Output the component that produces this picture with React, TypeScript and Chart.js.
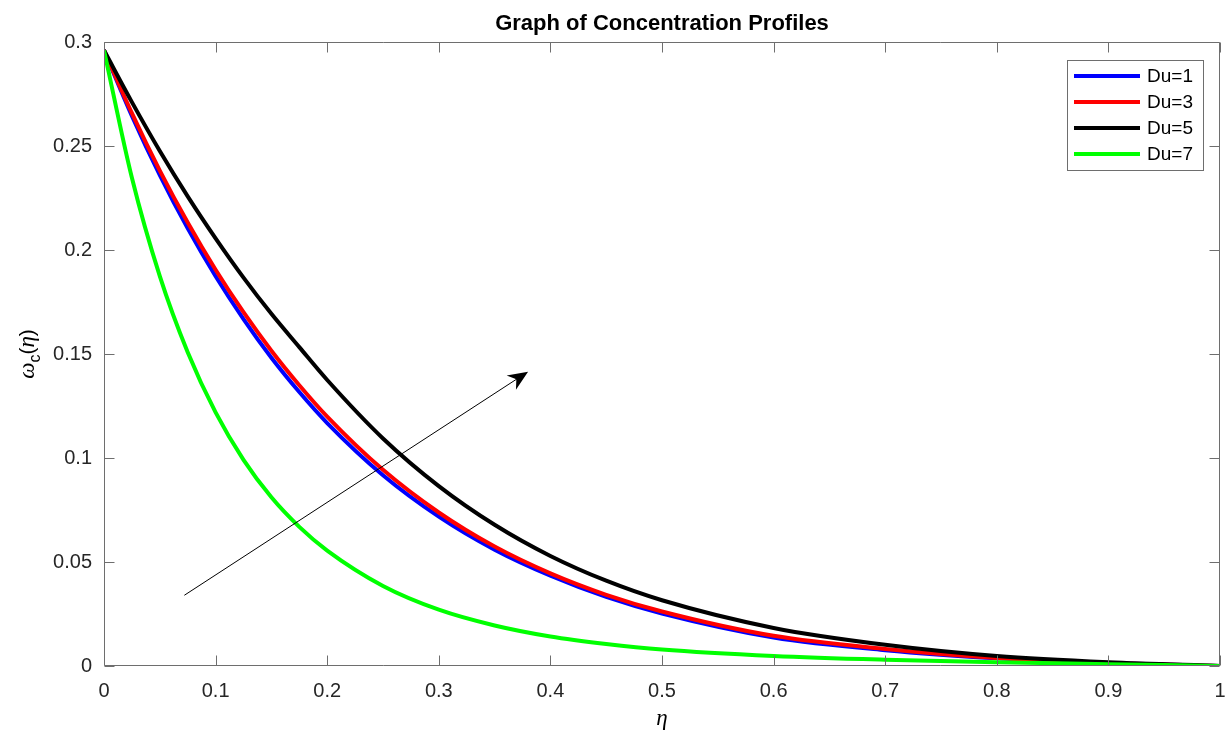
import React, { useEffect, useRef } from 'react';
import { Chart, registerables } from 'chart.js';

Chart.register(...registerables);

// ---- data ----
const eta = [0, 0.025, 0.05, 0.075, 0.1, 0.125, 0.15, 0.175, 0.2, 0.25, 0.3, 0.35, 0.4, 0.45, 0.5, 0.6, 0.7, 0.8, 0.9, 1.0];
const du1 = [0.296, 0.2645, 0.236, 0.2104, 0.1874, 0.1668, 0.1482, 0.1317, 0.1168, 0.0917, 0.0718, 0.0559, 0.0434, 0.0332, 0.0252, 0.0137, 0.0076, 0.0037, 0.0014, 0];
const du3 = [0.296, 0.2658, 0.2382, 0.2132, 0.1905, 0.1701, 0.1516, 0.135, 0.1199, 0.0943, 0.0738, 0.0574, 0.0445, 0.0342, 0.0262, 0.0145, 0.0082, 0.0039, 0.0015, 0];
const du5 = [0.296, 0.2711, 0.2476, 0.2258, 0.2056, 0.1867, 0.1693, 0.1533, 0.1375, 0.1094, 0.0865, 0.0679, 0.0529, 0.041, 0.0316, 0.0183, 0.0102, 0.0048, 0.0018, 0];
const du7 = [0.296, 0.2347, 0.1874, 0.1508, 0.1219, 0.0991, 0.0811, 0.0669, 0.0555, 0.0385, 0.0271, 0.0195, 0.0142, 0.0106, 0.0079, 0.0048, 0.003, 0.0018, 0.0009, 0];

const seriesLabels = ['Du=1', 'Du=3', 'Du=5', 'Du=7'];
const seriesColors = ['#0000ff', '#ff0000', '#000000', '#00ff00'];

const xTickValues = [0, 0.1, 0.2, 0.3, 0.4, 0.5, 0.6, 0.7, 0.8, 0.9, 1];
const xTickLabels = ['0', '0.1', '0.2', '0.3', '0.4', '0.5', '0.6', '0.7', '0.8', '0.9', '1'];
const yTickValues = [0, 0.05, 0.1, 0.15, 0.2, 0.25, 0.3];
const yTickLabels = ['0', '0.05', '0.1', '0.15', '0.2', '0.25', '0.3'];

const arrowFrom = [0.072, 0.034];
const arrowTo = [0.38, 0.1415];

const titleText = 'Graph of Concentration Profiles';

const SANS = '"Liberation Sans", Arial, Helvetica, sans-serif';
const SERIF = '"Liberation Serif", "DejaVu Serif", serif';
const AXIS_GRAY = '#6e6e6e';

const decorPlugin = {
  id: 'decor',
  afterDatasetsDraw(chart: any) {
    const ctx: CanvasRenderingContext2D = chart.ctx;
    const { left, right, top, bottom } = chart.chartArea;
    const xs = chart.scales.x;
    const ys = chart.scales.y;

    // arrow annotation
    ctx.save();
    const x0 = xs.getPixelForValue(arrowFrom[0]);
    const y0 = ys.getPixelForValue(arrowFrom[1]);
    const x1 = xs.getPixelForValue(arrowTo[0]);
    const y1 = ys.getPixelForValue(arrowTo[1]);
    const len = Math.hypot(x1 - x0, y1 - y0);
    const dx = (x1 - x0) / len;
    const dy = (y1 - y0) / len;
    const nx = -dy;
    const ny = dx;
    const hl = 20;
    const hw = 8.5;
    ctx.strokeStyle = '#000';
    ctx.lineWidth = 1;
    ctx.beginPath();
    ctx.moveTo(x0, y0);
    ctx.lineTo(x1 - dx * 12, y1 - dy * 12);
    ctx.stroke();
    ctx.fillStyle = '#000';
    ctx.beginPath();
    ctx.moveTo(x1, y1);
    ctx.lineTo(x1 - dx * hl + nx * hw, y1 - dy * hl + ny * hw);
    ctx.lineTo(x1 - dx * 14, y1 - dy * 14);
    ctx.lineTo(x1 - dx * hl - nx * hw, y1 - dy * hl - ny * hw);
    ctx.closePath();
    ctx.fill();
    ctx.restore();

    // frame and inward ticks
    ctx.save();
    ctx.strokeStyle = AXIS_GRAY;
    ctx.lineWidth = 1;
    const L = Math.round(left) + 0.5;
    const R = Math.round(right) - 0.5;
    const T = Math.round(top) + 0.5;
    const B = Math.round(bottom) - 0.5;
    ctx.beginPath();
    ctx.rect(L, T, R - L, B - T);
    const tk = 10;
    xTickValues.forEach((v) => {
      const px = Math.round(xs.getPixelForValue(v)) + 0.5;
      ctx.moveTo(px, B);
      ctx.lineTo(px, B - tk);
      ctx.moveTo(px, T);
      ctx.lineTo(px, T + tk);
    });
    yTickValues.forEach((v) => {
      const py = Math.round(ys.getPixelForValue(v)) + 0.5;
      ctx.moveTo(L, py);
      ctx.lineTo(L + tk, py);
      ctx.moveTo(R, py);
      ctx.lineTo(R - tk, py);
    });
    ctx.stroke();
    ctx.restore();

    // legend
    ctx.save();
    const bw = 136;
    const bh = 110;
    const bx = Math.round(right) - 17 - bw;
    const by = Math.round(top) + 18;
    ctx.fillStyle = '#fff';
    ctx.fillRect(bx, by, bw, bh);
    ctx.strokeStyle = AXIS_GRAY;
    ctx.lineWidth = 1;
    ctx.strokeRect(bx + 0.5, by + 0.5, bw, bh);
    ctx.font = `19px ${SANS}`;
    ctx.textBaseline = 'middle';
    ctx.textAlign = 'left';
    chart.data.datasets.forEach((ds: any, i: number) => {
      const yy = by + 16 + 26 * i;
      ctx.strokeStyle = ds.borderColor;
      ctx.lineWidth = 4;
      ctx.beginPath();
      ctx.moveTo(bx + 7, yy);
      ctx.lineTo(bx + 73, yy);
      ctx.stroke();
      ctx.fillStyle = '#000';
      ctx.fillText(ds.label, bx + 80, yy + 1);
    });
    ctx.restore();

    // title
    ctx.save();
    ctx.fillStyle = '#000';
    ctx.font = `bold 22px ${SANS}`;
    ctx.textAlign = 'center';
    ctx.textBaseline = 'alphabetic';
    ctx.fillText(titleText, (left + right) / 2, 30);

    // x label
    ctx.font = `italic 23px ${SERIF}`;
    ctx.fillText('\u03b7', (left + right) / 2, 725);

    // y label  ω_c(η)
    ctx.translate(34, (top + bottom) / 2);
    ctx.rotate(-Math.PI / 2);
    ctx.textAlign = 'left';
    const parts = [
      { t: '\u03c9', f: `italic 23px ${SERIF}`, dy: 0 },
      { t: 'c', f: `16px ${SANS}`, dy: 6 },
      { t: '(', f: `21px ${SANS}`, dy: 0 },
      { t: '\u03b7', f: `italic 23px ${SERIF}`, dy: 0 },
      { t: ')', f: `21px ${SANS}`, dy: 0 },
    ];
    let total = 0;
    parts.forEach((p) => {
      ctx.font = p.f;
      total += ctx.measureText(p.t).width;
    });
    let cx = -total / 2;
    parts.forEach((p) => {
      ctx.font = p.f;
      ctx.fillText(p.t, cx, p.dy);
      cx += ctx.measureText(p.t).width;
    });
    ctx.restore();
  },
};

export default function App() {
  const ref = useRef<HTMLCanvasElement>(null);

  useEffect(() => {
    if (!ref.current) return;
    const series = [du1, du3, du5, du7];
    const chart = new Chart(ref.current, {
      type: 'line',
      data: {
        datasets: series.map((s, i) => ({
          label: seriesLabels[i],
          data: eta.map((x, j) => ({ x, y: s[j] })),
          borderColor: seriesColors[i],
          backgroundColor: seriesColors[i],
          borderWidth: 4,
          pointRadius: 0,
          fill: false,
          cubicInterpolationMode: 'monotone',
          order: series.length - i,
        })),
      },
      options: {
        responsive: false,
        animation: false,
        events: [],
        layout: { padding: { top: 42, right: 11, left: 0, bottom: 0 } },
        plugins: {
          legend: { display: false },
          title: { display: false },
          tooltip: { enabled: false },
        },
        scales: {
          x: {
            type: 'linear',
            min: 0,
            max: 1,
            grid: { display: false },
            border: { display: false },
            afterBuildTicks: (s: any) => {
              s.ticks = xTickValues.map((v) => ({ value: v }));
            },
            afterFit: (s: any) => {
              s.height = 71;
              s.paddingLeft = 0;
              s.paddingRight = 0;
            },
            ticks: {
              autoSkip: false,
              maxRotation: 0,
              minRotation: 0,
              padding: 5,
              color: '#262626',
              font: { family: SANS, size: 20 },
              callback: (_v: any, i: number) => xTickLabels[i],
            },
          },
          y: {
            type: 'linear',
            min: 0,
            max: 0.3,
            grid: { display: false },
            border: { display: false },
            afterBuildTicks: (s: any) => {
              s.ticks = yTickValues.map((v) => ({ value: v }));
            },
            afterFit: (s: any) => {
              s.width = 104;
              s.paddingTop = 0;
              s.paddingBottom = 0;
            },
            ticks: {
              autoSkip: false,
              padding: 4,
              color: '#262626',
              font: { family: SANS, size: 20 },
              callback: (_v: any, i: number) => yTickLabels[i],
            },
          },
        },
      } as any,
      plugins: [decorPlugin],
    });
    return () => chart.destroy();
  }, []);

  return (
    <div style={{ position: 'fixed', left: 0, top: 0, width: 1231, height: 737, background: '#fff' }}>
      <canvas ref={ref} width={1231} height={737} style={{ display: 'block' }} />
    </div>
  );
}
